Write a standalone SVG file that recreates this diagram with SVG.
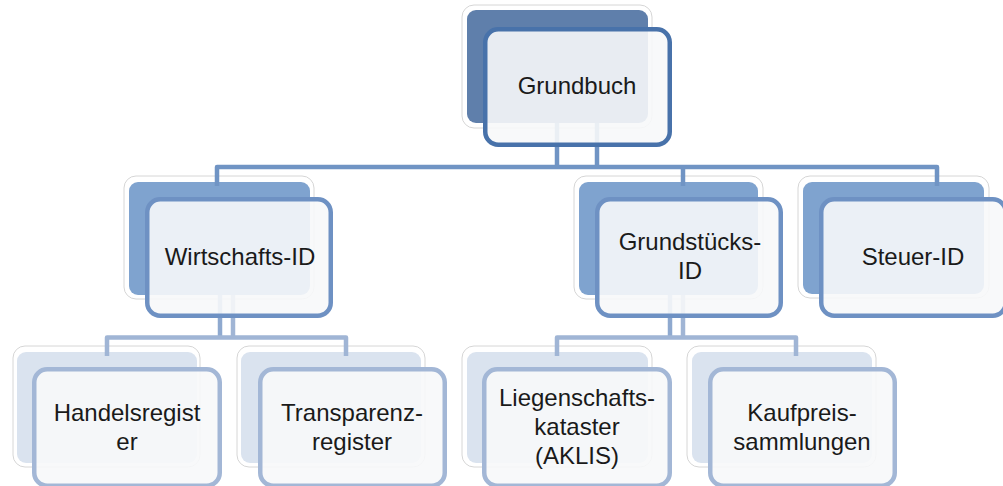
<svg xmlns="http://www.w3.org/2000/svg" width="1003" height="486" viewBox="0 0 1003 486">
<style>
.bo{fill:#ffffff;stroke:#d6d6d6;stroke-width:1}
.b1{fill:#5f7fab}
.b2{fill:#7fa3cf}
.b3{fill:#dae3ef}
.f{fill:#f7f8fa;fill-opacity:0.9;stroke-width:4.5}
.f1{stroke:#4872aa}
.f2{stroke:#6e91c3}
.f3{stroke:#a3b7d6}
.c{fill:none;stroke-width:4.5;stroke-linejoin:round}
.c1{stroke:#7094c4}
.c2{stroke:#a0b5d5}
.c2d{stroke:#8fa9cf}
text{font-family:"Liberation Sans",Arial,sans-serif;font-size:24px;fill:#1a1a1a;text-anchor:middle}
</style>
<g id="backs">
<g id="n1-back"><rect class="bo" x="462" y="5" width="190" height="123" rx="12"/><rect class="b1" x="467" y="10" width="181" height="113" rx="9"/></g>
<g id="n2-back"><rect class="bo" x="124" y="176" width="190" height="123" rx="12"/><rect class="b2" x="129" y="182" width="181" height="113" rx="9"/></g>
<g id="n3-back"><rect class="bo" x="574" y="176" width="189" height="123" rx="12"/><rect class="b2" x="579" y="182" width="179" height="113" rx="9"/></g>
<g id="n4-back"><rect class="bo" x="798" y="176" width="191" height="122" rx="12"/><rect class="b2" x="803" y="182" width="181" height="112" rx="9"/></g>
<g id="n5-back"><rect class="bo" x="13" y="346" width="187" height="121" rx="12"/><rect class="b3" x="17" y="352" width="180" height="111" rx="9"/></g>
<g id="n6-back"><rect class="bo" x="237" y="346" width="188" height="121" rx="12"/><rect class="b3" x="241" y="352" width="180" height="111" rx="9"/></g>
<g id="n7-back"><rect class="bo" x="462" y="346" width="190" height="121" rx="12"/><rect class="b3" x="467" y="352" width="181" height="111" rx="9"/></g>
<g id="n8-back"><rect class="bo" x="687" y="346" width="189" height="121" rx="12"/><rect class="b3" x="692" y="352" width="180" height="111" rx="9"/></g>
</g>
<g id="connectors">
<path class="c c1" d="M557,123 V167"/>
<path class="c c1" d="M597,123 V167"/>
<path class="c c1" d="M217,186 V167 H937 V186"/>
<path class="c c1" d="M683,167 V186"/>
<path class="c c2d" d="M220,295 V337.5"/>
<path class="c c2" d="M233,295 V337.5"/>
<path class="c c2" d="M107,356 V337.5 H346 V356"/>
<path class="c c2d" d="M670,295 V337.5"/>
<path class="c c2" d="M683,295 V337.5"/>
<path class="c c2" d="M557,356 V337.5 H796 V356"/>
</g>
<g id="grundbuch"><rect class="f f1" x="485.25" y="29.25" width="184.5" height="115.5" rx="13"/><text x="577" y="94">Grundbuch</text></g>
<g id="wirtschafts-id"><rect class="f f2" x="147.25" y="199.25" width="183.5" height="116.5" rx="13"/><text x="240" y="265">Wirtschafts-ID</text></g>
<g id="grundstuecks-id"><rect class="f f2" x="597.25" y="199.25" width="183.5" height="116.5" rx="13"/><text x="690" y="250">Grundstücks-</text><text x="690" y="279">ID</text></g>
<g id="steuer-id"><rect class="f f2" x="821.25" y="199.25" width="184.5" height="116.5" rx="13"/><text x="913" y="265">Steuer-ID</text></g>
<g id="handelsregister"><rect class="f f3" x="34.25" y="369.25" width="185.5" height="116.5" rx="13"/><text x="127" y="421">Handelsregist</text><text x="127" y="450">er</text></g>
<g id="transparenzregister"><rect class="f f3" x="260.25" y="369.25" width="184.5" height="116.5" rx="13"/><text x="352" y="421">Transparenz-</text><text x="352" y="450">register</text></g>
<g id="liegenschaftskataster"><rect class="f f3" x="484.25" y="369.25" width="185.5" height="116.5" rx="13"/><text x="577" y="406">Liegenschafts-</text><text x="577" y="435">kataster</text><text x="577" y="464">(AKLIS)</text></g>
<g id="kaufpreissammlungen"><rect class="f f3" x="710.25" y="369.25" width="184.5" height="116.5" rx="13"/><text x="802" y="421">Kaufpreis-</text><text x="802" y="450">sammlungen</text></g>
</svg>
